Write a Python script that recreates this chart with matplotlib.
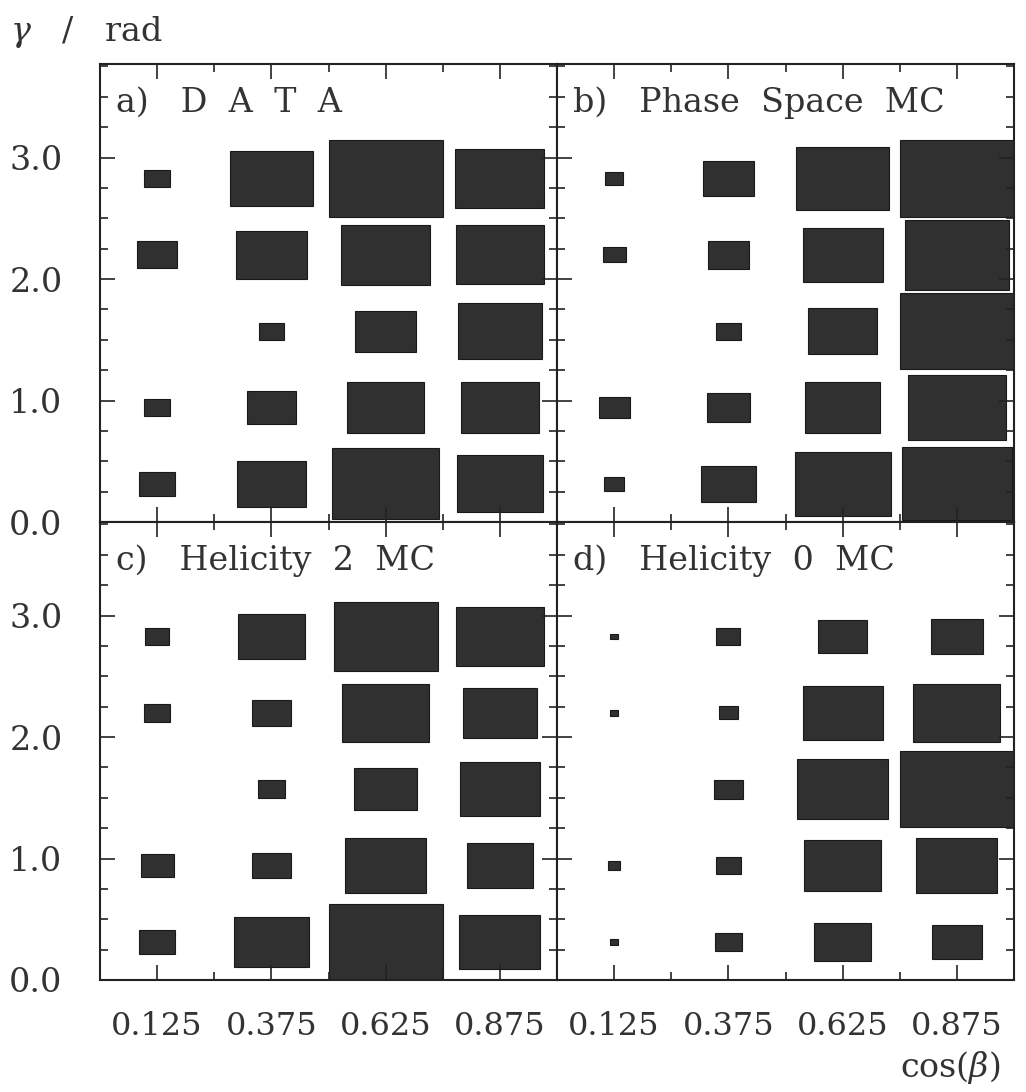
import numpy as np
import matplotlib
matplotlib.use("Agg")
import matplotlib.pyplot as plt
from matplotlib.patches import Rectangle
from matplotlib.ticker import MultipleLocator, FixedLocator

plt.rcParams['font.family'] = 'DejaVu Serif'
plt.rcParams['mathtext.fontset'] = 'dejavuserif'

# cos(beta) bin centres and gamma binning (5 bins over 0..pi)
cosb_centres = [0.125, 0.375, 0.625, 0.875]
cosb_labels = ['0.125', '0.375', '0.625', '0.875']
n_gamma = 5
gamma_edges = np.linspace(0, np.pi, n_gamma + 1)

# cell contents, rows = gamma bins from bottom to top, columns = cos(beta) bins
data_counts = [
    [32, 61, 93, 75],
    [23, 43, 68, 68],
    [0, 22, 54, 74],
    [35, 62, 78, 77],
    [23, 72, 100, 78],
]
phase_space_mc = [
    [18, 48, 84, 96],
    [27, 37, 66, 86],
    [0, 22, 60, 99],
    [20, 36, 70, 91],
    [16, 45, 82, 100],
]
helicity2_mc = [
    [31, 65, 100, 71],
    [29, 34, 71, 58],
    [0, 24, 55, 70],
    [23, 34, 76, 65],
    [21, 59, 91, 77],
]
helicity0_mc = [
    [7, 23, 50, 44],
    [11, 22, 67, 71],
    [0, 25, 79, 100],
    [7, 17, 70, 76],
    [7, 21, 43, 46],
]

panels = [
    ('a)', '   D  A  T  A', data_counts),
    ('b)', '   Phase  Space  MC', phase_space_mc),
    ('c)', '   Helicity  2  MC', helicity2_mc),
    ('d)', '   Helicity  0  MC', helicity0_mc),
]

fig = plt.figure(figsize=(10.26, 10.92), dpi=100)

W, H = 1026.0, 1092.0
x0, xm, x1 = 100, 557, 1014
y0, ym, y1 = 64, 522, 980
rects = [
    (x0, y0, xm, ym), (xm, y0, x1, ym),
    (x0, ym, xm, y1), (xm, ym, x1, y1),
]

box_color = '#303030'
txt_color = '#333333'
dx = 0.25
dy = np.pi / n_gamma

for k, ((tag, title, counts), (l, t, r, b)) in enumerate(zip(panels, rects)):
    ax = fig.add_axes([l / W, 1 - b / H, (r - l) / W, (b - t) / H])
    counts = np.array(counts, dtype=float)
    cmax = counts.max()
    for i in range(n_gamma):
        yc = 0.5 * (gamma_edges[i] + gamma_edges[i + 1])
        for j, xc in enumerate(cosb_centres):
            f = counts[i, j] / cmax
            if f <= 0:
                continue
            w, h = dx * f, dy * f
            ax.add_patch(Rectangle((xc - w / 2, yc - h / 2), w, h,
                                   facecolor=box_color, edgecolor='#1a1a1a',
                                   linewidth=0.8))
    ax.set_xlim(0, 1)
    ax.set_ylim(0, 3.77)
    ax.xaxis.set_major_locator(FixedLocator(cosb_centres))
    ax.xaxis.set_minor_locator(FixedLocator([0.25, 0.5, 0.75]))
    ax.yaxis.set_major_locator(FixedLocator([0, 1, 2, 3]))
    ax.yaxis.set_minor_locator(MultipleLocator(0.25))
    ax.tick_params(which='both', direction='in', top=True, right=True,
                   width=1.2, colors='#222222')
    ax.tick_params(which='major', length=11)
    ax.tick_params(which='minor', length=6)
    for s in ax.spines.values():
        s.set_linewidth(1.5)
        s.set_color('#222222')

    if k in (2, 3):
        ax.set_xticklabels(cosb_labels, fontsize=23, color=txt_color)
        ax.tick_params(axis='x', which='major', pad=22)
    else:
        ax.set_xticklabels([])
    if k in (0, 2):
        ax.set_yticklabels(['0.0', '1.0', '2.0', '3.0'], fontsize=24,
                           color=txt_color)
        ax.tick_params(axis='y', which='major', pad=27)
    else:
        ax.set_yticklabels([])

    ax.text(0.035, 0.915, tag + title, transform=ax.transAxes,
            fontsize=24, color=txt_color, va='center', ha='left')

fig.text(10 / W, 1 - 32 / H, r'$\gamma$   /   rad', fontsize=24,
         color=txt_color, va='center', ha='left')
fig.text(1000 / W, 1 - 1068 / H, r'cos($\beta$)', fontsize=24,
         color=txt_color, va='center', ha='right')

fig.savefig('out.png', dpi=100)
